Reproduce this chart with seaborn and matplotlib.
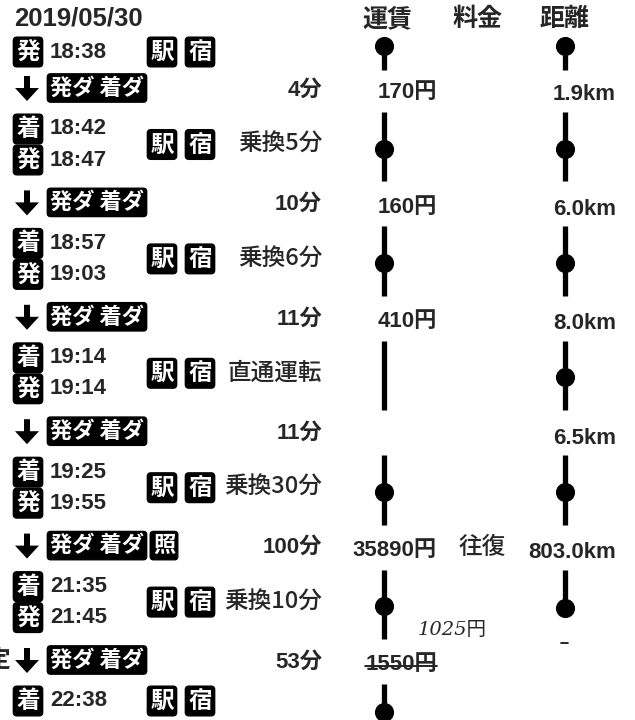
import pandas as pd
import seaborn as sns
import matplotlib.pyplot as plt

# route data
date = '2019/05/30'
columns = ['運賃', '料金', '距離']
arr_times = ['', '18:42', '18:57', '19:14', '19:25', '21:35', '22:38']
dep_times = ['18:38', '18:47', '19:03', '19:14', '19:55', '21:45', '']
transfers = ['', '乗換5分', '乗換6分', '直通運転', '乗換30分', '乗換10分', '']
durations = ['4分', '10分', '11分', '11分', '100分', '53分']
fares = ['170円', '160円', '410円', '', '35890円', '1550円']
charges = ['', '', '', '', '往復', '']
distances = ['1.9km', '6.0km', '8.0km', '6.5km', '803.0km', '']
leg_extra = ['', '', '', '', '照', '']
fare_stop = [True, True, True, False, True, True, True]
dist_stop = [True, True, True, True, True, True, False]
note = '1025円'

sns.set_theme(style='white')
plt.rcParams['font.family'] = ['Liberation Sans', 'Noto Sans CJK JP', 'DejaVu Sans']
plt.rcParams['font.weight'] = 'bold'
JP = ['Noto Sans CJK JP', 'DejaVu Sans']

fig = plt.figure(figsize=(6.35, 7.2), dpi=100)
ax = fig.add_axes([0, 0, 1, 1])
ax.set_xlim(0, 635)
ax.set_ylim(720, 0)
ax.axis('off')

# row layout (pixels)
n_leg = len(durations)
step = 114.4
leg_y = [88 + step * i for i in range(n_leg)]
arr_y = [None] + [y + 41 for y in leg_y]
dep_y = [52] + [y + 72 for y in leg_y[:-1]] + [None]
st_y = []
for a, d in zip(arr_y, dep_y):
    if a is None:
        st_y.append(d)
    elif d is None:
        st_y.append(a)
    else:
        st_y.append((a + d) / 2)

X_FARE, X_DIST = 384, 565
FS = 16
badge = dict(boxstyle='round,pad=0.12,rounding_size=0.15', fc='black', ec='black')


def tag(x, y, s, size=17):
    ax.text(x, y, s, ha='center', va='center', color='white', fontsize=size,
            fontweight='bold', family=JP, bbox=badge)


# header
ax.text(14, 18, date, ha='left', va='center', fontsize=18.5)
for x, c in zip([387, 477, 565], columns):
    ax.text(x, 19, c, ha='center', va='center', fontsize=18, family=JP, fontweight='bold')

# stations
for i in range(len(st_y)):
    for t, y, k in [(arr_times[i], arr_y[i], '着'), (dep_times[i], dep_y[i], '発')]:
        if t:
            tag(28, y, k)
            ax.text(50, y, t, ha='left', va='center', fontsize=FS)
    sy = st_y[i]
    if i == len(st_y) - 1 or i == 0:
        sy = dep_y[i] if i == 0 else arr_y[i]
    tag(162, sy, '駅')
    tag(200, sy, '宿')
    if transfers[i]:
        ax.text(322, st_y[i], transfers[i], ha='right', va='center', fontsize=17,
                family=JP, fontweight='medium')

# legs
for j in range(n_leg):
    y = leg_y[j]
    ax.arrow(27, y - 12, 0, 25, width=6, head_width=24, head_length=13,
             length_includes_head=True, color='black', lw=0)
    tag(97, y, '発ダ 着ダ', size=16)
    if leg_extra[j]:
        tag(164, y, leg_extra[j], size=16)
    ax.text(322, y + 2, durations[j], ha='right', va='center', fontsize=FS)
    if fares[j]:
        t = ax.text(437, y + 5, fares[j], ha='right', va='center', fontsize=FS)
    if charges[j]:
        ax.text(482, y + 2, charges[j], ha='center', va='center', fontsize=17,
                family=JP, fontweight='medium')
    if distances[j]:
        ax.text(616, y + 7, distances[j], ha='right', va='center', fontsize=FS)

# strike-through on the last fare, with the handwritten correction
fig.canvas.draw()
bb = t.get_window_extent().transformed(ax.transData.inverted())
ax.plot([bb.x0, bb.x1], [(bb.y0 + bb.y1) / 2 + 1] * 2, color='black', lw=1.2)
ax.text(452, 630, note, ha='center', va='center', fontsize=14, style='italic',
        fontweight='normal', family=['DejaVu Serif', 'Noto Sans CJK JP'])
ax.text(10, leg_y[-1], '定', ha='right', va='center', fontsize=17, family=JP)

# fare / distance tracks
rows = []
n_st = len(st_y)
for x, stops, last in [(X_FARE, fare_stop, n_st - 1), (X_DIST, dist_stop, n_st - 2)]:
    for i in range(last + 1):
        if i == 0:
            cy = 46
            top, bot = cy, leg_y[0] - 18
        elif i == last:
            cy = st_y[i] + (11 if i == n_st - 1 else 6)
            top, bot = leg_y[i - 1] + 24, cy
        else:
            cy = st_y[i] + 4
            top, bot = leg_y[i - 1] + 24, leg_y[i] - 21
        ax.plot([x, x], [top, bot], color='black', lw=3.8, solid_capstyle='butt')
        if stops[i]:
            rows.append({'x': x, 'y': cy})

marks = pd.DataFrame(rows)
sns.scatterplot(data=marks, x='x', y='y', ax=ax, s=190, color='black',
                edgecolor='black', linewidth=0, legend=False, zorder=3)
ax.plot([561, 568], [643, 643], color='black', lw=1.2)

fig.savefig('out.png', dpi=100, facecolor='white')
